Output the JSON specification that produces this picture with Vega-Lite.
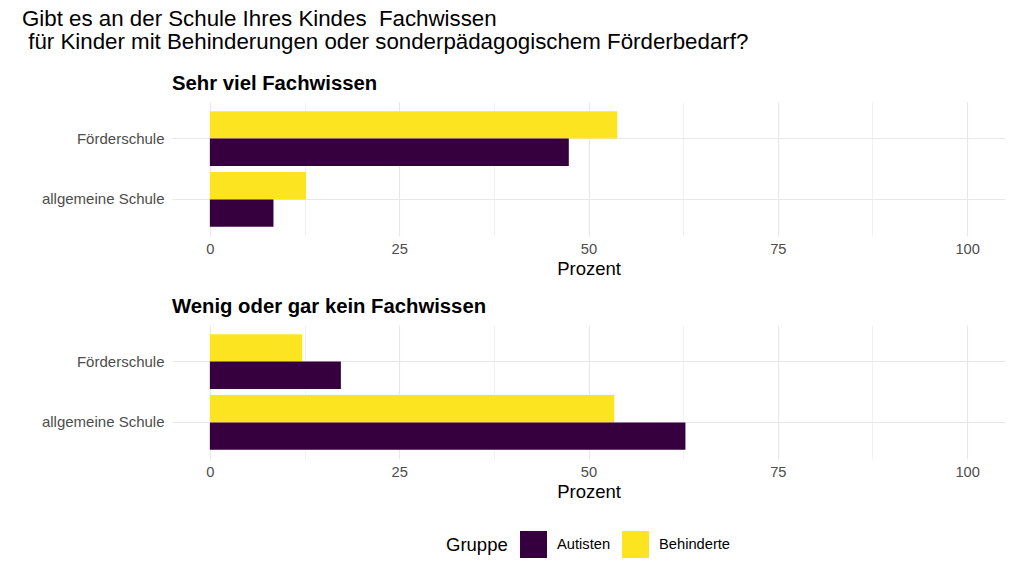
{
  "$schema": "https://vega.github.io/schema/vega-lite/v6.json",
  "autosize": {"type": "none"},
  "padding": {"left": 172, "top": 102, "right": 852, "bottom": 486},
  "background": "white",
  "title": {
    "text": ["Gibt es an der Schule Ihres Kindes\u00a0 Fachwissen", "\u200b\u00a0für Kinder mit Behinderungen oder sonderpädagogischem Förderbedarf?"],
    "anchor": "start",
    "frame": "group",
    "dx": -150,
    "fontSize": 22.3,
    "fontWeight": "normal",
    "font": "Liberation Sans",
    "color": "#000000",
    "lineHeight": 23,
    "offset": 20
  },
  "datasets": {
    "d": [
      {"panel": "Sehr viel Fachwissen", "schule": "Förderschule", "gruppe": "Behinderte", "prozent": 53.8},
      {"panel": "Sehr viel Fachwissen", "schule": "Förderschule", "gruppe": "Autisten", "prozent": 47.4},
      {"panel": "Sehr viel Fachwissen", "schule": "allgemeine Schule", "gruppe": "Behinderte", "prozent": 12.7},
      {"panel": "Sehr viel Fachwissen", "schule": "allgemeine Schule", "gruppe": "Autisten", "prozent": 8.4},
      {"panel": "Wenig oder gar kein Fachwissen", "schule": "Förderschule", "gruppe": "Behinderte", "prozent": 12.2},
      {"panel": "Wenig oder gar kein Fachwissen", "schule": "Förderschule", "gruppe": "Autisten", "prozent": 17.3},
      {"panel": "Wenig oder gar kein Fachwissen", "schule": "allgemeine Schule", "gruppe": "Behinderte", "prozent": 53.4},
      {"panel": "Wenig oder gar kein Fachwissen", "schule": "allgemeine Schule", "gruppe": "Autisten", "prozent": 62.8}
    ]
  },
  "config": {
    "font": "Liberation Sans",
    "view": {"stroke": null},
    "axis": {
      "domain": false,
      "ticks": false,
      "gridColor": "#e8e8e8",
      "labelColor": "#4d4d4d",
      "labelFontSize": 15,
      "titleFontSize": 18.5,
      "titleFontWeight": "normal",
      "titleColor": "#000000"
    },
    "legend": {
      "orient": "none",
      "legendX": 274,
      "legendY": 429,
      "direction": "horizontal",
      "titleOrient": "left",
      "titleFontSize": 18.5,
      "titleFontWeight": "normal",
      "titleColor": "#000000",
      "titlePadding": 12,
      "labelFontSize": 14.7,
      "labelColor": "#000000",
      "labelOffset": 10,
      "columnPadding": 11,
      "symbolType": "square",
      "symbolSize": 729,
      "symbolStrokeWidth": 0
    },
    "title": {"anchor": "start", "frame": "group", "fontSize": 20.3, "fontWeight": "bold", "color": "#000000", "offset": 8}
  },
  "spacing": 17,
  "vconcat": [
    {
      "title": "Sehr viel Fachwissen",
      "width": 833,
      "height": 134,
      "data": {"name": "d"},
      "transform": [{"filter": "datum.panel === 'Sehr viel Fachwissen'"}],
      "mark": {"type": "bar"},
      "encoding": {
        "y": {
          "field": "schule", "type": "nominal", "sort": ["Förderschule", "allgemeine Schule"], "title": null,
          "scale": {"paddingInner": 0.1, "paddingOuter": 0.15},
          "axis": {"bandPosition": 0.5, "grid": true, "gridWidth": 1.2, "labelPadding": 8}
        },
        "yOffset": {"field": "gruppe", "type": "nominal", "sort": ["Behinderte", "Autisten"], "scale": {"paddingInner": 0, "paddingOuter": 0}},
        "x": {
          "field": "prozent", "type": "quantitative", "title": "Prozent",
          "scale": {"domain": [-5, 105], "nice": false, "zero": false},
          "axis": {
            "values": [0, 12.5, 25, 37.5, 50, 62.5, 75, 87.5, 100],
            "labelExpr": "datum.value % 25 === 0 ? datum.label : ''",
            "labelFontSize": 14.7,
            "gridWidth": {"condition": {"test": "datum.value % 25 === 0", "value": 1.2}, "value": 0.6},
            "labelPadding": 5,
            "titlePadding": 4
          }
        },
        "x2": {"datum": 0},
        "color": {
          "field": "gruppe", "type": "nominal", "title": "Gruppe",
          "scale": {"domain": ["Autisten", "Behinderte"], "range": ["#36003f", "#fde420"]}
        }
      }
    },
    {
      "title": "Wenig oder gar kein Fachwissen",
      "width": 833,
      "height": 134,
      "data": {"name": "d"},
      "transform": [{"filter": "datum.panel === 'Wenig oder gar kein Fachwissen'"}],
      "mark": {"type": "bar"},
      "encoding": {
        "y": {
          "field": "schule", "type": "nominal", "sort": ["Förderschule", "allgemeine Schule"], "title": null,
          "scale": {"paddingInner": 0.1, "paddingOuter": 0.15},
          "axis": {"bandPosition": 0.5, "grid": true, "gridWidth": 1.2, "labelPadding": 8}
        },
        "yOffset": {"field": "gruppe", "type": "nominal", "sort": ["Behinderte", "Autisten"], "scale": {"paddingInner": 0, "paddingOuter": 0}},
        "x": {
          "field": "prozent", "type": "quantitative", "title": "Prozent",
          "scale": {"domain": [-5, 105], "nice": false, "zero": false},
          "axis": {
            "values": [0, 12.5, 25, 37.5, 50, 62.5, 75, 87.5, 100],
            "labelExpr": "datum.value % 25 === 0 ? datum.label : ''",
            "labelFontSize": 14.7,
            "gridWidth": {"condition": {"test": "datum.value % 25 === 0", "value": 1.2}, "value": 0.6},
            "labelPadding": 5,
            "titlePadding": 4
          }
        },
        "x2": {"datum": 0},
        "color": {
          "field": "gruppe", "type": "nominal", "title": "Gruppe",
          "scale": {"domain": ["Autisten", "Behinderte"], "range": ["#36003f", "#fde420"]}
        }
      }
    }
  ]
}
